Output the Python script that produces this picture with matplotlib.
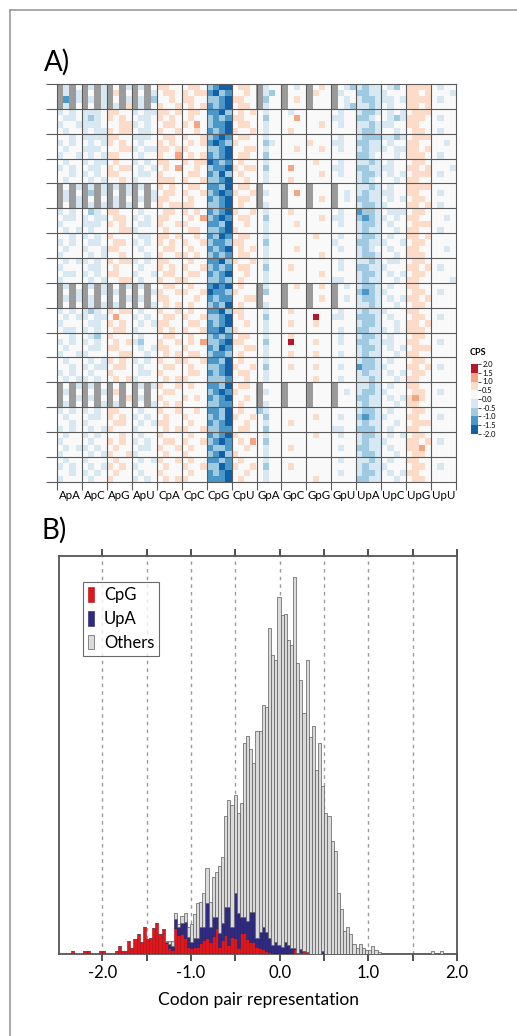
import numpy as np
import matplotlib.pyplot as plt
from matplotlib.colors import ListedColormap, BoundaryNorm
from matplotlib.lines import Line2D

plt.rcParams['font.family'] = ['Lato', 'DejaVu Sans']

# ---- panel A data: codon pair score matrix, one string per row, one char per cell
# D=-1.75 M=-1.25 b=-0.75 l=-0.25 .=0.25 p=0.75 o=1.25 R=1.75 #=no value
nivells = {'D': -1.75, 'M': -1.25, 'b': -0.75, 'l': -0.25, '.': 0.25,
           'p': 0.75, 'o': 1.25, 'R': 1.75, '#': np.nan}
dinucs = ['ApA', 'ApC', 'ApG', 'ApU', 'CpA', 'CpC', 'CpG', 'CpU',
          'GpA', 'GpC', 'GpG', 'GpU', 'UpA', 'UpC', 'UpG', 'UpU']
files = [
    "#l#. #l#l #.#l #l#. pp.. .pp. bMDD .pp. #l.. #.l. #.p. #.lb lbll .lb. pppp .l..",
    "#l#l #.#l #p#. #.#l .pp. p.pp MDbM ..p. #lb. #... #p.. #l.. bbll l... pp.p ...l",
    "#M#l #l#l #.#l #l#b ..p. pp.. bbMD pp.. #b.. #.p. #... #.l. lbbl ll.l pppp .l..",
    "#l#. #.#l #l#p #l#. p..p .p.p MbMD .pp. #l.. #... #... #.lb llbl .l.. pp.p ....",
    "l.l. lll. pp.. l.ll pp.p .pp. MMDb .p.p .l.. .l.. .... .l.. lbbl .l.l .ppp ....",
    ".ll. lbl. p.p. .ll. p.p. .p.. bMbM pp.. .b.. ..o. .... ll.. bbl. .lbl ppp. .l..",
    "l..l lll. ..pp l.l. .pp. p.o. bMMD .pp. .l.. .... ..p. .l.. llbl ll.. pp.. ....",
    ".l.. l.ll p.pp .ll. p..p ..p. MbMD p..p .l.. .p.. .... .... lbbl ..l. .pp. .l..",
    "..l. llll pp.. lll. .pp. p..p bMDM .pp. .l.. .... .... .l.. lbbb llbl .ppp ....",
    "l.l. .l.l p.p. .l.. p.p. .p.p MDMb p... .bl. .... p... ll.. bbll .l.. pp.. ..l.",
    ".l.. lll. ..pp l.ll pp.p p... bbMD ..pp .l.. ..p. ..p. .l.. lbll l.ll pp.p ....",
    "l..l .l.l pp.. .l.. p..o .p.p MbMD .pp. .b.. .... .... .... bbl. ..l. ppp. .l..",
    ".l.. l.ll .p.. l.l. pp.. p.pp DMbM .p.. .l.. .... .p.. .l.. llbl .l.. .pp. ....",
    "l.l. .ll. p.pp .l.l .p.o ..p. bMMD p.pp .b.. .o.. .... ll.. bbll ll.. pp.p ...l",
    "..l. l.l. pp.. .ll. p... .pp. MbDb .p.. .l.. .... ..p. .l.. lbbl .l.l .ppp .l..",
    ".l.. .l.l ..p. l... ppp. p..p bbMD ..p. .l.. .p.. .... .... lbl. ..l. pp.. ....",
    "#.#l #l#l #l#l #l#. p.p. .pp. MMbD .pp. #... #... #... #... llbl .l.. pppp ....",
    "#l#. #b#l #.#l #.#l .pp. p..p bMDM p..p #l.. #.o. #... #.l. lbll ll.. pp.. .l..",
    "#l#l #.#. #l#. #l#l pp.. .p.. MbMD .pp. #... #... #.p. #.l. bbll .l.l .pp. ....",
    "#.#l #l#l #l#l #.#. p.pp pp.. bbMD .p.. #l.. #... #... #... lbbl l... pp.p .l..",
    "l.l. .bl. pp.. .l.. .pp. p.p. MbMD p..p .l.. .p.. .... .l.. Mbbl .lll .pp. ....",
    ".ll. l.ll .pp. l.l. pp.. .p.o bMDM .pp. .b.. .... ..p. ll.. bMbl l.l. pp.. ..l.",
    "l... lll. p.p. .ll. p..p p... MMbD ..p. .l.. ..p. .... .l.. lbbl .l.. .ppp ....",
    ".l.l .l.. ..pp l... .p.. .pp. bbMD p... .l.. .... .... .... lbll ..l. pp.. .l..",
    "..l. l.l. p... .ll. pp.p ..p. MbDM .pp. .l.. .... .p.. .l.. lbbl .l.. pp.p ....",
    "l.l. .ll. .pp. l.l. p.p. p..p bMMb pp.. .b.. .... .... l... bbll l..l .pp. ....",
    ".l.. l..l pp.. .l.. .pp. .p.. MbMD .p.p .l.. ..p. .... .l.. lbl. .l.. pp.. ..l.",
    "l... .l.l ..p. ..l. p..p p.p. bMbM .pp. .l.. .... ..p. .... lbbl ..l. ppp. ....",
    ".l.l l.l. p.pp l.l. pp.. .p.. MMDb p..p .l.. .... .... .l.. llbl .ll. .pp. ....",
    "l... .ll. .p.. .l.. p.p. p..p bMbM .pp. .b.. .p.. .... .l.. bbll l... pp.p .l..",
    ".ll. l.l. pp.. l..l .pp. .pp. MbMD ..p. .l.. .... ..p. .... lbbl .l.l .pp. ....",
    "l... .l.l ..pp .l.. p..p p... bbMb .p.. .l.. .... .... ll.. lbll ..l. pp.. ...l",
    "#l#. #l#l #.#l #l#. .pp. .p.. MDMD .p.. #l.. #.p. #.p. #.l. lbbl .l.. pp.. ....",
    "#.#l #.#l #l#. #.#l p..p p..p DMMb p... #b.. #... #... #... bMbl l... .pp. .l..",
    "#l#l #l#. #.#l #l#. pp.. ..p. MbMM ..pp #... #... #.p. #.l. lbbl .l.l pp.p ....",
    "#.#. #l#l #l#. #.#l .p.p .p.. bMbD .p.. #l.. #... #... #... llbl ..l. .pp. ....",
    "l.l. lbl. p.pp .l.. p..p .p.. MMDb pp.. .l.. .p.. .... .l.. lbll l... pp.. ....",
    ".l.l l.ll .o.. l.l. .pp. p..p bbMD .p.. .b.. .... .R.. ll.. bbbl .l.. .pp. .l..",
    "l... .ll. p.p. .l.l pp.. .pp. MbMD ..p. .l.. .p.. .p.. .... lbbl ..l. pp.p ....",
    ".ll. l.l. .pp. l... p.p. p..p MMDb p... .l.. .... .... .l.. bbll l.l. ppp. ....",
    "..l. .lb. p... .l.. .pp. .p.. bMbM .pp. .l.. .p.. .... .l.. lbbl .l.. .pp. ....",
    "l.l. l.l. .p.p lb.. p..p .p.o bbMD pp.. .b.. .R.. .p.. .l.. bbll ll.. pp.. .l..",
    ".l.. .ll. pp.. .l.l pp.. p... MbDM ..pp .l.. .... .... .... lbbl .l.l .ppp ....",
    "l..l l... ..pp ..l. .p.p .pp. bMMb .p.. .l.. .p.. .p.. .l.. lbll ..l. pp.. ....",
    ".l.. .l.l p.p. l.l. p..p p..p MMbD .p.. .l.. .... .... .... lbbl .l.. .pp. ....",
    "..l. l.ll .pp. .l.. .pp. .p.. bbMD p..p .b.. .p.. .p.. .l.. Mbbl l... pp.p .l..",
    "l.l. .l.. p... .ll. p... .pp. MbMD .pp. .l.. .... .... .... lbll .l.l .pp. ....",
    ".l.l l.l. .p.p l... .p.p p... bbbM ..p. .l.. .... .p.. .l.. llbl ..l. pp.. ....",
    "#.#l #l#. #.#. #l#l p..p .p.. MMbD .pp. #... #... #... #... llbl .l.. pp.. ....",
    "#l#. #.#l #p#. #.#. .pp. .... bMDM p... #l.. #... #... #.l. lbbl l... .pp. .l..",
    "#.#l #l#. #.#p #l#. p... p.p. MbMD ..p. #... #... #... #... bbll .l.l pop. ....",
    "#l#. #.#l #l#. #.#l .p.p .... bbMM .p.. #l.. #... #... #... lbll ..l. pp.. ....",
    "l.l. l.l. pp.. .l.. p..p ..p. MMbD .p.. bl.. .... .... .... lbbl .l.. .pp. ....",
    ".l.. .ll. p.p. l.l. .p.. p... bMbD p..p .b.. .... .p.. .l.. bMbl l... pp.. .l..",
    "..l. l... .pp. .l.l pp.. .p.. MbMD ..p. .l.. .p.. .... .... lbll ..l. .ppp ....",
    "l.l. .l.l p... l... .p.p p..p bbMM .pp. .b.. .... .... ll.. bbbl .l.. pp.. ....",
    ".l.. l.l. ..p. .l.. p... .p.. MbMD p... .l.. .... .p.. .l.. lbbl .l.l .pp. ....",
    "l... .l.. p.p. l.l. .pp. p..p bMDM .p.o .b.. .... .... .... lbll l... pp.p .l..",
    ".l.l l.l. .p.. .ll. p..p .p.. MbbM ..p. .l.. .p.. .... .l.. bbll .l.. ppo. ....",
    "l... .l.l p..p l... .p.. p... bMDb p... .l.. .... .... .... lbbl ..l. .pp. ....",
    ".l.. l... .p.. .l.l p..p .p.. MMbM .p.. .l.. .... .... .l.. llbl .l.. pp.. ....",
    "l.l. .l.l p.p. l... .p.. p..p bbDM p..p .b.. .p.. .... .... lbll l... .pp. .l..",
    "..l. l.l. .p.. .l.. p... .p.. MbMD ..p. .l.. .... .... .l.. lbbl .l.l pp.. ....",
    "l... .l.. p... l.l. .p.p p... MMMD .p.. .l.. .... .p.. .... bbll ..l. .pp. ....",
]

# ---- panel B data: stacked histogram counts per bin
bin_inici = -2.462
bin_ample = 0.0353
cpg = [0, 0, 0, 3, 0, 0, 0, 3, 3, 0,
       0, 0, 3, 3, 0, 0, 0, 3, 8, 3,
       3, 13, 6, 15, 20, 12, 27, 15, 16, 26,
       31, 20, 25, 11, 6, 4, 26, 19, 20, 16,
       7, 6, 7, 7, 11, 14, 16, 12, 18, 26,
       7, 14, 19, 9, 17, 16, 6, 21, 21, 15,
       12, 12, 7, 6, 5, 3, 2, 0, 0, 0,
       0, 0, 0, 0, 5, 0, 2, 3, 2, 0,
       0, 0, 0, 0, 0, 0, 0, 0, 0, 0,
       0, 0, 0, 0, 0, 0, 0, 0, 0, 0,
       0, 0, 0, 0, 0, 0, 0, 0, 0, 0,
       0, 0, 0, 0, 0, 0, 0, 0, 0, 0,
       0, 0]
upa = [0, 0, 0, 0, 0, 0, 0, 0, 0, 0,
       0, 0, 0, 0, 0, 0, 0, 0, 0, 0,
       0, 0, 0, 0, 0, 0, 0, 0, 0, 0,
       0, 0, 0, 1, 4, 4, 9, 8, 11, 16,
       10, 6, 9, 9, 16, 13, 35, 15, 19, 11,
       14, 17, 28, 38, 10, 45, 35, 16, 16, 18,
       30, 30, 9, 16, 22, 19, 14, 9, 12, 9,
       7, 12, 9, 6, 1, 1, 3, 0, 0, 0,
       0, 0, 0, 3, 0, 0, 0, 0, 0, 0,
       0, 0, 0, 0, 0, 0, 0, 0, 0, 0,
       0, 0, 0, 0, 0, 0, 0, 0, 0, 0,
       0, 0, 0, 0, 0, 0, 0, 0, 0, 0,
       0, 0]
altres = [0, 0, 0, 0, 0, 0, 0, 0, 0, 0,
          0, 0, 0, 0, 0, 0, 0, 0, 0, 0,
          0, 0, 0, 0, 0, 0, 0, 0, 0, 0,
          0, 0, 0, 1, 3, 5, 6, 3, 7, 9,
          10, 18, 24, 35, 25, 34, 35, 25, 40, 45,
          67, 66, 91, 107, 122, 98, 100, 114, 174, 185,
          163, 149, 207, 201, 222, 225, 310, 290, 282, 348,
          332, 328, 305, 303, 371, 290, 269, 238, 292, 217,
          228, 184, 211, 165, 141, 138, 113, 103, 61, 45,
          23, 27, 20, 10, 6, 10, 6, 4, 4, 8,
          4, 2, 0, 0, 0, 0, 0, 0, 0, 0,
          0, 0, 0, 0, 0, 0, 0, 0, 3, 0,
          0, 3]

colors_cps = ['#1061a8', '#4a97c8', '#9fcae2', '#d7e8f3',
              '#f9f9f9', '#fcdcc9', '#f4a683', '#b5172b']

W, H = 517, 1036
fig = plt.figure(figsize=(W / 100, H / 100), dpi=100)

def fx(px):
    return px / W

def fy(py):
    return 1 - py / H

# vora exterior
fig.add_artist(Line2D([fx(10), fx(10)], [fy(10), 0], color='#999999', lw=1.2))
fig.add_artist(Line2D([fx(10), 1], [fy(10), fy(10)], color='#999999', lw=1.2))

fig.text(fx(44), fy(62), 'A)', fontsize=20, va='center', ha='left')
fig.text(fx(42), fy(530), 'B)', fontsize=20, va='center', ha='left')

# ---- panel A
mat = np.array([[nivells[c] for c in ''.join(f.split())] for f in files])
n = mat.shape[0]
cmap = ListedColormap(colors_cps)
cmap.set_bad('#9b9b9b')
norm = BoundaryNorm(np.arange(-2, 2.01, 0.5), cmap.N)

ax1 = fig.add_axes([fx(57.3), fy(481.7), fx(455.7) - fx(57.3), fy(84) - fy(481.7)])
ax1.imshow(np.ma.masked_invalid(mat), cmap=cmap, norm=norm, aspect='auto',
           interpolation='nearest', extent=(0, n, n, 0))
for k in range(4, n, 4):
    ax1.axhline(k, color='#5a5a5a', lw=0.8)
    ax1.axvline(k, color='#5a5a5a', lw=0.8)
for s in ax1.spines.values():
    s.set_color('#5a5a5a')
    s.set_linewidth(0.8)
ax1.set_xlim(0, n)
ax1.set_ylim(n, 0)
ax1.set_xticks(np.arange(0, n + 1, 4))
ax1.set_xticklabels([])
ax1.set_xticks(np.arange(2, n, 4), minor=True)
ax1.set_xticklabels(dinucs, minor=True, fontsize=8.3)
ax1.set_yticks(np.arange(0, n + 1, 4))
ax1.set_yticklabels([])
ax1.tick_params(axis='x', which='major', length=6, width=0.8, color='#5a5a5a')
ax1.tick_params(axis='x', which='minor', length=0, pad=6)
ax1.tick_params(axis='y', length=8, width=0.8, color='#5a5a5a')

# barra de color
cax = fig.add_axes([fx(471), fy(434), fx(478) - fx(471), fy(364) - fy(434)])
cb = fig.colorbar(plt.cm.ScalarMappable(norm=norm, cmap=ListedColormap(colors_cps)),
                  cax=cax, ticks=np.arange(-2, 2.01, 0.5))
cb.outline.set_visible(False)
cb.ax.set_yticklabels([f'{v:.1f}' for v in np.arange(-2, 2.01, 0.5)])
cb.ax.tick_params(labelsize=5.5, length=2, width=0.5, pad=1)
fig.text(fx(478), fy(353), 'CPS', fontsize=6.5, fontweight='bold', ha='center', va='center')

# ---- panel B
ax2 = fig.add_axes([fx(59), fy(954), fx(457) - fx(59), fy(556) - fy(954)])
vores = bin_inici + bin_ample * np.arange(len(altres))
cpg_a = np.array(cpg)
upa_a = np.array(upa)
ax2.bar(vores, cpg_a, width=bin_ample, align='edge', color='#e3141c',
        edgecolor='#a01010', lw=0.4, label='CpG', zorder=3)
ax2.bar(vores, upa_a, width=bin_ample, bottom=cpg_a, align='edge', color='#2f2a83',
        edgecolor='#1e1a5a', lw=0.4, label='UpA', zorder=3)
ax2.bar(vores, altres, width=bin_ample, bottom=cpg_a + upa_a, align='edge',
        color='#dadada', edgecolor='#5c5c5c', lw=0.5, label='Others', zorder=3)
ax2.set_xlim(-2.49, 2.0)
ax2.set_ylim(0, 398)
ax2.set_xticks(np.arange(-2.0, 2.01, 0.5))
ax2.set_xticklabels(['-2.0', '', '-1.0', '', '0.0', '', '1.0', '', '2.0'])
ax2.set_yticks([])
for xv in np.arange(-2.0, 1.51, 0.5):
    ax2.axvline(xv, color='#9a9a9a', lw=1.0, ls=(0, (2.5, 3)), zorder=1)
ax2.tick_params(axis='x', direction='out', length=5, width=1.2, color='#333333',
                labelsize=12, top=True, pad=3)
for s in ax2.spines.values():
    s.set_color('#555555')
    s.set_linewidth(1.3)
ax2.set_xlabel('Codon pair representation', fontsize=12.5, labelpad=8)
leg = ax2.legend(loc='upper left', bbox_to_anchor=(0.04, 0.955), fontsize=12,
                 frameon=True, fancybox=False, edgecolor='#444444',
                 handlelength=0.35, handleheight=1.0, handletextpad=0.6,
                 labelspacing=0.45, borderpad=0.3)
leg.get_frame().set_linewidth(0.8)

fig.savefig('out.png', dpi=100)
